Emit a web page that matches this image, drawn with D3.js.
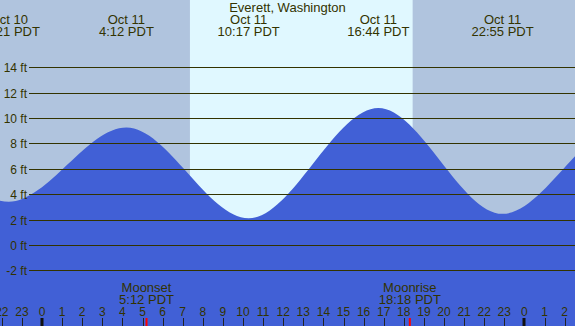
<!DOCTYPE html>
<html><head><meta charset="utf-8">
<script src="https://cdn.jsdelivr.net/npm/d3@7"></script>
<style>
html,body{margin:0;padding:0;background:#fff;overflow:hidden}
svg{display:block}
text{font-family:"Liberation Sans",Arial,sans-serif;fill:#333300}
</style></head>
<body>
<script>
// Tide extremes (hours relative to Oct 11 00:00 PDT) and heights (ft)
const tideHours   = [-14.5, -8.25, -1.65, 4.2, 10.283, 16.733, 22.917, 28.92, 35.2];
const tideHeights = [2.0, 10.5, 3.4, 9.25, 2.1, 10.8, 2.45, 9.45, 1.9];

// Labelled extremes shown at top
const extremeHours = [-1.65, 4.2, 10.283, 16.733, 22.917];
const extremeDates = ["Oct 10", "Oct 11", "Oct 11", "Oct 11", "Oct 11"];
const extremeTimes = ["22:21 PDT", "4:12 PDT", "10:17 PDT", "16:44 PDT", "22:55 PDT"];

// Daylight
const sunriseHour = 7.36;
const sunsetHour = 18.44;

// Moon events
const moonHours = [5.2, 18.3];
const moonNames = ["Moonset", "Moonrise"];
const moonTimes = ["5:12 PDT", "18:18 PDT"];

// Axis ticks
const hourTicks = d3.range(-2, 27);
const feetTicks = [-2, 0, 2, 4, 6, 8, 10, 12, 14];

const title = "Everett, Washington";

const W = 575, H = 326;
const x = d3.scaleLinear().domain([0, 24]).range([42, 524.4]);
const y = d3.scaleLinear().domain([-2, 14]).range([270.3, 67.3]);

const svg = d3.select("body").append("svg").attr("width", W).attr("height", H);

// Sky: night everywhere, day band
svg.append("rect").attr("x", 0).attr("y", 0).attr("width", W).attr("height", H).attr("fill", "#b0c4de");
svg.append("rect").attr("x", x(sunriseHour)).attr("y", 0)
  .attr("width", x(sunsetHour) - x(sunriseHour)).attr("height", H).attr("fill", "#e0f8ff");

// Water
const pts = tideHours.map((h, i) => [h, tideHeights[i]]);
const area = d3.area().x(d => x(d[0])).y0(H).y1(d => y(d[1])).curve(d3.curveMonotoneX);
svg.append("path").datum(pts).attr("d", area).attr("fill", "#4160d6");

// Grid lines and y labels
feetTicks.forEach(v => {
  const yy = Math.round(y(v)) + 0.5;
  svg.append("line").attr("x1", 29).attr("x2", W).attr("y1", yy).attr("y2", yy)
    .attr("stroke", "#333300").attr("stroke-width", 1);
  svg.append("text").attr("x", 27).attr("y", yy + 4.5).attr("text-anchor", "end")
    .attr("font-size", "12px").text(v + " ft");
});

// Title
svg.append("text").attr("x", W / 2).attr("y", 12).attr("text-anchor", "middle")
  .attr("font-size", "13px").text(title);

// Extreme labels
extremeHours.forEach((h, i) => {
  svg.append("text").attr("x", x(h)).attr("y", 24).attr("text-anchor", "middle")
    .attr("font-size", "13px").text(extremeDates[i]);
  svg.append("text").attr("x", x(h)).attr("y", 36).attr("text-anchor", "middle")
    .attr("font-size", "13px").text(extremeTimes[i]);
});

// Hour ticks + labels
hourTicks.forEach(h => {
  const hh = ((h % 24) + 24) % 24;
  const xx = Math.round(x(h));
  if (hh === 0) {
    svg.append("rect").attr("x", xx - 1.5).attr("y", 318).attr("width", 3).attr("height", 8).attr("fill", "#111");
  } else {
    svg.append("line").attr("x1", xx + 0.5).attr("x2", xx + 0.5).attr("y1", 318).attr("y2", H)
      .attr("stroke", "#222").attr("stroke-width", 1);
  }
  svg.append("text").attr("x", x(h)).attr("y", 315.5).attr("text-anchor", "middle")
    .attr("font-size", "12px").text(hh);
});

// Moon events
moonHours.forEach((h, i) => {
  svg.append("rect").attr("x", x(h) - 1).attr("y", 318).attr("width", 2).attr("height", 8).attr("fill", "#ff0000");
  svg.append("text").attr("x", x(h)).attr("y", 291.5).attr("text-anchor", "middle")
    .attr("font-size", "13px").text(moonNames[i]);
  svg.append("text").attr("x", x(h)).attr("y", 304).attr("text-anchor", "middle")
    .attr("font-size", "13px").text(moonTimes[i]);
});
</script>
</body></html>
